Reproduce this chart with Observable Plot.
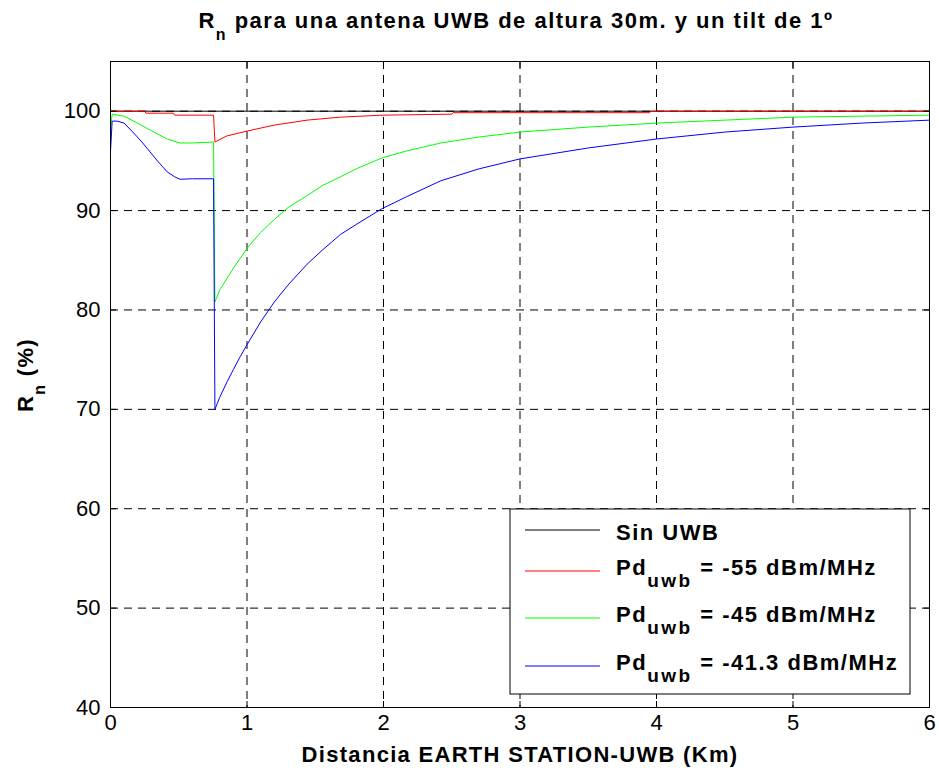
<!DOCTYPE html>
<html><head><meta charset="utf-8">
<script src="https://cdn.jsdelivr.net/npm/d3@7"></script>
<script src="https://cdn.jsdelivr.net/npm/@observablehq/plot@0.6"></script>
<style>
body{margin:0;background:#fff}
#chart{position:relative;width:939px;height:773px}
</style>
</head><body><div id="chart"></div>
<script>
// ---- data ----
const xTicks = [0, 1, 2, 3, 4, 5, 6];
const yTicks = [40, 50, 60, 70, 80, 90, 100];
const xGrid = [1, 2, 3, 4, 5];
const yGrid = [50, 60, 70, 80, 90, 100];

const distSin = [0, 6];
const rnSin = [100, 100];

const distRed = [0, 0.25, 0.26, 0.46, 0.47, 0.755, 0.765, 0.85, 1.0, 1.2, 1.44, 1.685, 1.99, 2.5, 2.51, 3.95, 3.96, 6.0];
const rnRed   = [100, 100, 99.8, 99.8, 99.6, 99.6, 96.9, 97.5, 98.0, 98.6, 99.1, 99.4, 99.6, 99.7, 99.85, 99.85, 100, 100];

const distGreen = [0, 0.012, 0.1, 0.17, 0.29, 0.415, 0.51, 0.6, 0.755, 0.765, 0.8, 0.9, 1.0, 1.1, 1.2, 1.3, 1.44, 1.55, 1.685, 1.8, 1.99, 2.17, 2.42, 2.7, 3.0, 3.5, 4.0, 4.5, 5.0, 5.5, 6.0];
const rnGreen   = [98.1, 99.7, 99.5, 99.0, 98.1, 97.2, 96.8, 96.8, 96.9, 80.8, 82.0, 84.2, 86.2, 87.8, 89.1, 90.3, 91.5, 92.5, 93.4, 94.2, 95.3, 96.0, 96.8, 97.4, 97.9, 98.4, 98.8, 99.1, 99.4, 99.5, 99.6];

const distBlue = [0, 0.012, 0.05, 0.1, 0.17, 0.23, 0.29, 0.35, 0.415, 0.47, 0.51, 0.6, 0.7, 0.755, 0.765, 0.8, 0.855, 0.9, 0.95, 1.0, 1.1, 1.2, 1.3, 1.44, 1.55, 1.685, 1.8, 1.99, 2.17, 2.42, 2.7, 3.0, 3.5, 4.0, 4.5, 5.0, 5.5, 6.0];
const rnBlue   = [95.9, 99.0, 99.0, 98.8, 97.8, 96.9, 95.9, 94.9, 93.9, 93.4, 93.15, 93.2, 93.2, 93.2, 70.0, 71.2, 72.8, 74.0, 75.3, 76.5, 78.8, 80.8, 82.5, 84.6, 86.0, 87.6, 88.6, 90.2, 91.4, 93.0, 94.2, 95.2, 96.3, 97.2, 97.9, 98.4, 98.8, 99.1];

const legendLabels = ["Sin UWB", "-55 dBm/MHz", "-45 dBm/MHz", "-41.3 dBm/MHz"];
const legendColors = ["black", "red", "#00ff00", "blue"];

const toRows = (xs, ys) => xs.map((x, i) => ({x, y: ys[i]}));
const FONT = '"Liberation Sans", Arial, Helvetica, sans-serif';
const fmt = d3.format("d");

const plot = Plot.plot({
  width: 939, height: 773,
  marginTop: 61, marginBottom: 66, marginLeft: 110, marginRight: 10,
  style: {fontFamily: FONT, fontSize: "22px", background: "white", color: "black"},
  x: {domain: [0, 6]},
  y: {domain: [40, 105]},
  marks: [
    Plot.gridX(xGrid, {stroke: "black", strokeOpacity: 1, strokeDasharray: "8,6"}),
    Plot.gridY(yGrid, {stroke: "black", strokeOpacity: 1, strokeDasharray: "8,6"}),
    Plot.line(toRows(distSin, rnSin), {x: "x", y: "y", stroke: legendColors[0], strokeWidth: 1}),
    Plot.line(toRows(distRed, rnRed), {x: "x", y: "y", stroke: legendColors[1], strokeWidth: 1}),
    Plot.line(toRows(distGreen, rnGreen), {x: "x", y: "y", stroke: legendColors[2], strokeWidth: 1}),
    Plot.line(toRows(distBlue, rnBlue), {x: "x", y: "y", stroke: legendColors[3], strokeWidth: 1}),
    Plot.axisX(xTicks, {anchor: "bottom", tickSize: -6, tickPadding: 13, tickFormat: fmt, label: null}),
    Plot.axisX(xTicks, {anchor: "top", tickSize: -6, tickFormat: () => "", label: null}),
    Plot.axisY(yTicks, {anchor: "left", tickSize: -6, tickPadding: 16, tickFormat: fmt, label: null}),
    Plot.axisY(yTicks, {anchor: "right", tickSize: -6, tickFormat: () => "", label: null}),
    Plot.frame({stroke: "black"})
  ]
});
document.getElementById("chart").appendChild(plot);

const svg = d3.select(plot);
// title
const t = svg.append("text").attr("x", 516).attr("y", 28).attr("text-anchor", "middle")
  .attr("font-family", FONT).attr("font-weight", "bold").attr("font-size", 22).attr("letter-spacing", 1.5).attr("fill", "black");
t.append("tspan").text("R");
t.append("tspan").attr("font-size", 16).attr("dy", 12).text("n");
t.append("tspan").attr("dy", -12).text(" para una antena UWB de altura 30m. y un tilt de 1º");

// x label
svg.append("text").attr("x", 520).attr("y", 762).attr("text-anchor", "middle")
  .attr("font-family", FONT).attr("font-weight", "bold").attr("font-size", 22).attr("letter-spacing", 1.3).attr("fill", "black")
  .text("Distancia EARTH STATION-UWB (Km)");

// y label
const yl = svg.append("text").attr("transform", "translate(33,375) rotate(-90)").attr("text-anchor", "middle")
  .attr("font-family", FONT).attr("font-weight", "bold").attr("font-size", 22).attr("letter-spacing", 1.3).attr("fill", "black");
yl.append("tspan").text("R");
yl.append("tspan").attr("font-size", 16).attr("dy", 12).text("n");
yl.append("tspan").attr("dy", -12).text(" (%)");

// legend
const lg = svg.append("g").attr("text-anchor", "start");
lg.append("rect").attr("x", 510).attr("y", 509).attr("width", 400).attr("height", 185)
  .attr("fill", "white").attr("stroke", "black").attr("stroke-width", 1);
const lineY = [530, 571, 618, 666];
const textY = [540, 575, 622, 670];
legendLabels.forEach((lab, i) => {
  lg.append("line").attr("x1", 525).attr("x2", 600).attr("y1", lineY[i]).attr("y2", lineY[i])
    .attr("stroke", legendColors[i]).attr("stroke-width", 1);
  const tx = lg.append("text").attr("x", 616).attr("y", textY[i]).attr("text-anchor", "start")
    .attr("font-family", FONT).attr("font-weight", "bold").attr("font-size", 22).attr("letter-spacing", 1.5).attr("fill", "black");
  if (i === 0) {
    tx.text(lab);
  } else {
    tx.append("tspan").text("Pd");
    tx.append("tspan").attr("font-size", 19).attr("letter-spacing", 2.5).attr("dy", 12).text("uwb");
    tx.append("tspan").attr("dy", -12).text(" = " + lab);
  }
});
</script>
</body></html>
